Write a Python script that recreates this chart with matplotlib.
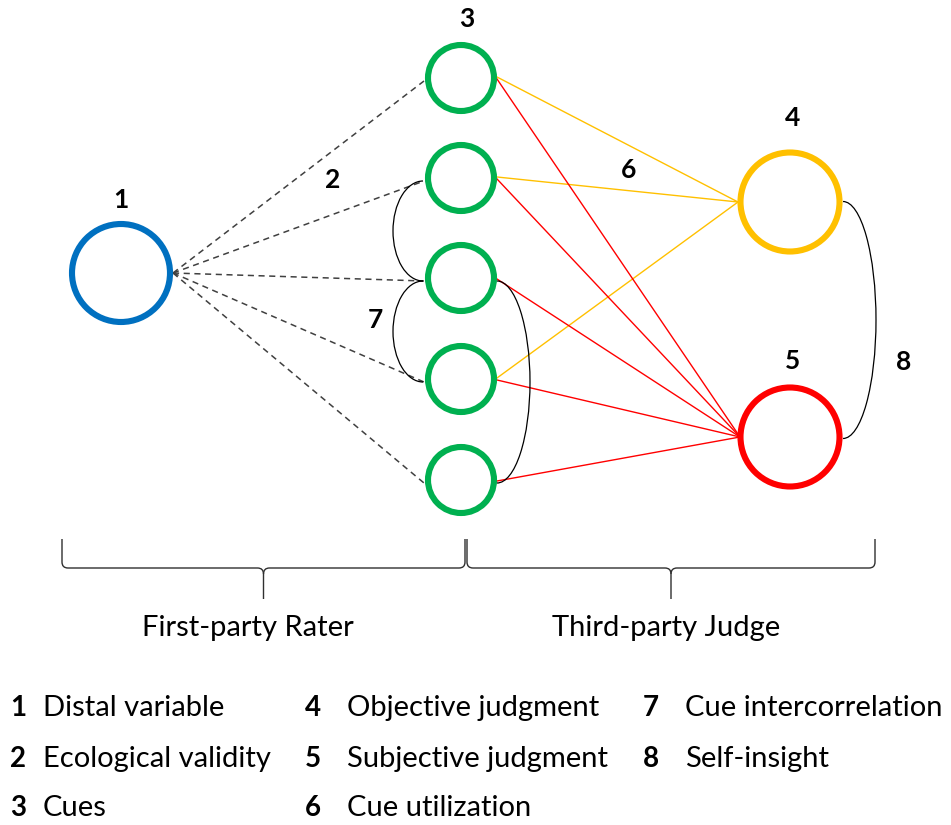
import matplotlib.pyplot as plt
from matplotlib.patches import Circle, Arc, PathPatch
from matplotlib.path import Path

# node positions (pixel coordinates of the diagram)
distal = (121, 273)
cue_x = 461
cue_ys = [78, 178, 278, 379, 480]
obj_node = (790, 202)
subj_node = (790, 437)

# which cues feed which judgment
yellow_cues = [0, 1, 3]
red_cues = [0, 1, 2, 3, 4]

num_labels = ["1", "2", "3", "4", "5", "6", "7", "8"]
num_pos = [(121, 200), (333, 180), (467, 19), (793, 118), (793, 361), (629, 170), (375, 320), (904, 362)]

brace_names = ["First-party Rater", "Third-party Judge"]
legend_nums = [["1", "2", "3"], ["4", "5", "6"], ["7", "8"]]
legend_text = [["Distal variable", "Ecological validity", "Cues"],
               ["Objective judgment", "Subjective judgment", "Cue utilization"],
               ["Cue intercorrelation", "Self-insight"]]

BLUE = "#0070C0"
GREEN = "#00B050"
ORANGE = "#FFC000"
RED = "#FF0000"

fig = plt.figure(figsize=(9.51, 8.25), dpi=100)
ax = fig.add_axes([0, 0, 1, 1])
ax.set_xlim(0, 951)
ax.set_ylim(825, 0)
ax.set_aspect('equal')
ax.axis('off')

r_big = 49
r_cue = 33
ring = 4.4

# dashed lines: distal -> cues
for cy in cue_ys:
    ax.plot([distal[0] + r_big + 3, cue_x - r_cue - 4], [distal[1], cy + 3],
            color="#404040", lw=1.1, ls=(0, (4, 3)), zorder=1)

# cue utilization lines
for i in yellow_cues:
    ax.plot([cue_x + r_cue + 3, obj_node[0] - r_big - 3], [cue_ys[i] - 1, obj_node[1]],
            color=ORANGE, lw=1.0, zorder=1)
for i in red_cues:
    ax.plot([cue_x + r_cue + 3, subj_node[0] - r_big - 1], [cue_ys[i] + 1, subj_node[1]],
            color=RED, lw=1.0, zorder=1)

# circles
ax.add_patch(Circle(distal, r_big, fill=False, ec=BLUE, lw=ring, zorder=3))
for cy in cue_ys:
    ax.add_patch(Circle((cue_x, cy), r_cue, fill=False, ec=GREEN, lw=ring, zorder=3))
ax.add_patch(Circle(obj_node, r_big + 0.5, fill=False, ec=ORANGE, lw=ring, zorder=3))
ax.add_patch(Circle(subj_node, r_big + 0.5, fill=False, ec=RED, lw=ring, zorder=3))

# intercorrelation arcs
lx = cue_x - r_cue - 5
rx = cue_x + r_cue + 3
for a, b in [(1, 2), (2, 3)]:
    y0, y1 = cue_ys[a] + 3, cue_ys[b] + 3
    ax.add_patch(Arc((lx, (y0 + y1) / 2), 60, y1 - y0, theta1=90, theta2=270,
                     color="black", lw=0.9, zorder=2))
y0, y1 = cue_ys[2] + 3, cue_ys[4] + 3
ax.add_patch(Arc((rx, (y0 + y1) / 2), 66, y1 - y0, theta1=-90, theta2=90,
                 color="black", lw=0.9, zorder=2))
# self-insight arc
ax.add_patch(Arc((obj_node[0] + r_big + 4, (obj_node[1] + subj_node[1]) / 2 + 0.5), 66,
                 subj_node[1] - obj_node[1] + 2, theta1=-90, theta2=90,
                 color="black", lw=0.9, zorder=2))

# numeric labels
for t, (x, y) in zip(num_labels, num_pos):
    ax.text(x, y, t, fontsize=19, fontweight='bold', ha='center', va='center',
            family='Lato')


def brace(x0, x1, ytop, ymid, ytip):
    xm = (x0 + x1) / 2
    c = 6
    verts = [(x0, ytop), (x0, ymid - c), (x0, ymid), (x0 + c, ymid),
             (xm - c, ymid), (xm, ymid), (xm, ymid + c), (xm, ytip)]
    codes = [Path.MOVETO, Path.LINETO, Path.CURVE3, Path.CURVE3,
             Path.LINETO, Path.CURVE3, Path.CURVE3, Path.LINETO]
    ax.add_patch(PathPatch(Path(verts, codes), fill=False, lw=1.0, ec="#303030"))
    verts = [(x1, ytop), (x1, ymid - c), (x1, ymid), (x1 - c, ymid),
             (xm + c, ymid), (xm, ymid), (xm, ymid + c)]
    codes = [Path.MOVETO, Path.LINETO, Path.CURVE3, Path.CURVE3,
             Path.LINETO, Path.CURVE3, Path.CURVE3]
    ax.add_patch(PathPatch(Path(verts, codes), fill=False, lw=1.0, ec="#303030"))


brace(62, 465, 539, 568, 599)
brace(467, 875, 539, 568, 599)
ax.text(248, 628, brace_names[0], fontsize=21, ha='center', va='center', family='Lato')
ax.text(666, 628, brace_names[1], fontsize=21, ha='center', va='center', family='Lato')

# legend
col_num_x = [18, 313, 651]
col_txt_x = [43, 347, 685]
row_y = [708, 759, 808]
for c in range(3):
    for r, (n, t) in enumerate(zip(legend_nums[c], legend_text[c])):
        ax.text(col_num_x[c], row_y[r], n, fontsize=20, fontweight='bold',
                ha='center', va='center', family='Lato')
        ax.text(col_txt_x[c], row_y[r], t, fontsize=21, ha='left', va='center',
                family='Lato')

fig.savefig("out.png", dpi=100)
